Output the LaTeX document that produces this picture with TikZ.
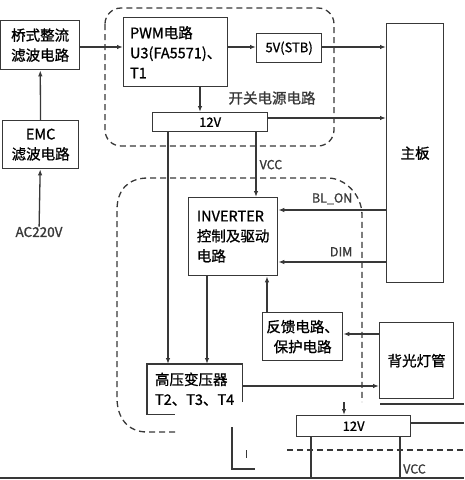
\documentclass[tikz,border=0pt]{standalone}
\usepackage{fontspec}
\setmainfont{Noto Sans CJK SC}[FakeBold=1]
\usetikzlibrary{arrows.meta}
\definecolor{ink}{HTML}{383838}
\begin{document}
\begin{tikzpicture}[x=1pt, y=-1pt,
    box/.style={draw=ink, line width=1.3pt, inner sep=0pt, anchor=north west, align=center, font=\fontsize{14.5}{20}\selectfont},
    wire/.style={draw=ink, line width=1.3pt},
    feed/.style={wire, -{Latex[length=6pt,width=4.5pt]}},
    region/.style={draw=ink, line width=1.3pt, dash pattern=on 6pt off 4pt},
    tag/.style={font=\fontsize{12.5}{15}\selectfont, text=ink, inner sep=0pt}]
    \useasboundingbox (0,0) rectangle (464,480);

    % power input chain
    \node[box, minimum width=79pt, minimum height=49pt] (bridge) at (0,20) {桥式整流\\滤波电路};
    \node[box, minimum width=76pt, minimum height=48pt] (emc) at (2,120) {EMC\\滤波电路};
    \node[tag, font=\fontsize{13.5}{15}\selectfont] (ac) at (39,232) {AC220V};
    \draw[feed] (ac) -- (emc);
    \draw[feed] (emc) -- (bridge);

    % switching supply
    \draw[region, rounded corners=16pt] (105,8) rectangle (334,146);
    \node[box, minimum width=104pt, minimum height=69pt, align=left] (pwm) at (123,17) {PWM电路\\U3(FA5571)、\\T1};
    \node[box, minimum width=65pt, minimum height=29pt, font=\fontsize{13}{15}\selectfont] (stb) at (256,33) {5V(STB)};
    \node[box, minimum width=115pt, minimum height=19pt, font=\fontsize{13}{15}\selectfont] (vtop) at (152,112) {12V};
    \node[tag, font=\fontsize{14.5}{15}\selectfont] (smps) at (272,98) {开关电源电路};
    \node[box, minimum width=57pt, minimum height=259pt] (board) at (386,23) {主板};
    \draw[feed] (bridge.east |- 0,47) -- (pwm.west |- 0,47);
    \draw[feed] (pwm.east |- 0,47) -- (stb.west |- 0,47);
    \draw[feed] (stb.east |- 0,47) -- (board.west |- 0,47);
    \draw[feed] (pwm.south -| 200,0) -- (vtop.north -| 200,0);
    \draw[feed] (vtop.east |- 0,118) -- (board.west |- 0,118);

    % inverter section
    \draw[region] (175,432) -- (147,432) .. controls (128,432) and (117,418) .. (117,398)
        -- (117,210) .. controls (117,190) and (128,178) .. (148,178)
        -- (328,178) .. controls (345,178) and (362,195) .. (362,215) -- (362,402);
    \node[box, minimum width=89pt, minimum height=78pt, align=left] (inv) at (188,197) {INVERTER\\控制及驱动\\电路};
    \node[box, minimum width=80pt, minimum height=48pt] (prot) at (262,312) {反馈电路、\\保护电路};
    \node[box, minimum width=74pt, minimum height=76pt] (lamp) at (379,322) {背光灯管};
    \node[box, draw=none, minimum width=94pt, minimum height=49pt, align=left] (hv) at (147,364) {高压变压器\\T2、T3、T4};
    \draw[wire] (hv.north east) ++(0,38) -- (hv.north east) -- (hv.north west) -- (hv.south west) -- ++(28,0);
    \draw[feed] (vtop.south -| 256,0) -- node[tag, anchor=west, xshift=3pt] (vcc) {VCC} (inv.north -| 256,0);
    \draw[feed] (board.west |- 0,210) -- node[tag, above=5pt] (blon) {BL\_ON} (inv.east |- 0,210);
    \draw[feed] (board.west |- 0,262) -- node[tag, above=5pt, xshift=9pt] (dim) {DIM} (inv.east |- 0,262);
    \draw[feed] (prot.north -| 267,0) -- (inv.south -| 267,0);
    \draw[feed] (lamp.west |- 0,334) -- (prot.east |- 0,334);
    \draw[feed] (hv.east |- 0,386) -- (lamp.west |- 0,386);
    \draw[feed] (vtop.south -| 168,0) -- (hv.north -| 168,0);
    \draw[feed] (inv.south -| 207,0) -- (hv.north -| 207,0);

    % cut-off part of the next sheet
    \node[box, minimum width=114pt, minimum height=21pt, font=\fontsize{13}{15}\selectfont] (vlow) at (296,415) {12V};
    \coordinate (edgeA) at (464,423);
    \coordinate (edgeB) at (464,404);
    \coordinate (lampfoot) at (380,404);
    \coordinate (drop) at (344,402);
    \draw[feed] (drop) -- (vlow.north -| drop);
    \draw[wire] (vlow.east |- edgeA) -- (edgeA);
    \draw[wire] (lampfoot) -- (edgeB);
    \draw[region] (287,450) -- (464,450);
    \draw[wire] (vlow.south -| 311,0) -- (311,478);
    \draw[wire] (vlow.south -| 400,0) -- (400,478);
    \node[tag, anchor=west] (vcc2) at (403,469) {VCC};
    \draw[wire] (232,427) -- (232,469) -- (255,469);
    \draw[wire, line width=0.9pt] (246,450) -- (246,458);
    \draw[ink, line width=2.2pt] (0,478) -- (464,478);
\end{tikzpicture}
\end{document}
